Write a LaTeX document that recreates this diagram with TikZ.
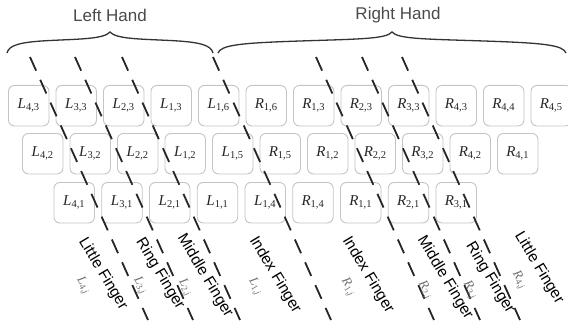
\documentclass[tikz,border=0pt]{standalone}
\usepackage{fontspec}
\setmainfont{Liberation Serif}
\setsansfont{Liberation Sans}
\usetikzlibrary{calc}
\definecolor{keyedge}{HTML}{C4C4C4}
\definecolor{keytext}{HTML}{262626}
\definecolor{handtext}{HTML}{4A4A4A}
\definecolor{subtext}{HTML}{707070}
\newcommand{\keylab}[2]{\textit{#1}\textsubscript{#2}}
\begin{document}
\begin{tikzpicture}[x=1pt,y=-1pt,
  keybox/.style={draw=keyedge, line width=0.9pt, rounded corners=6pt,
    minimum width=40.5pt, minimum height=40.5pt, anchor=north west,
    inner sep=0pt, text=keytext, font=\fontsize{15}{17}\selectfont},
  fingerline/.style={line width=1.8pt, draw=black!85, dash pattern=on 15pt off 10pt},
  brace/.style={line width=1.3pt, draw=black!80},
  handlabel/.style={font=\sffamily\fontsize{17}{20}\selectfont, text=handtext},
  fingerlabel/.style={font=\sffamily\fontsize{15.5}{18}\selectfont, rotate=-59, inner sep=0pt},
  sublabel/.style={font=\fontsize{13}{15}\selectfont, text=subtext, rotate=-59, inner sep=0pt}]
\useasboundingbox (0,0) rectangle (568,329);

% keyboard rows
\foreach \c/\s [count=\i from 0] in {L/{4,3},L/{3,3},L/{2,3},L/{1,3},L/{1,6},R/{1,6},R/{1,3},R/{2,3},R/{3,3},R/{4,3},R/{4,4},R/{4,5}}
  \node[keybox] (top\i) at ({8+47.5*\i},85) {\keylab{\c}{\s}};
\foreach \c/\s [count=\i from 0] in {L/{4,2},L/{3,2},L/{2,2},L/{1,2},L/{1,5},R/{1,5},R/{1,2},R/{2,2},R/{3,2},R/{4,2},R/{4,1}}
  \node[keybox] (mid\i) at ({22+47.5*\i},133) {\keylab{\c}{\s}};
\foreach \c/\s [count=\i from 0] in {L/{4,1},L/{3,1},L/{2,1},L/{1,1},L/{1,4},R/{1,4},R/{1,1},R/{2,1},R/{3,1}}
  \node[keybox] (bot\i) at ({53.5+47.75*\i},182) {\keylab{\c}{\s}};

% hand braces
\draw[brace] (7,53) .. controls (9,45) and (20,42) .. (50,40.5)
  .. controls (80,39) and (104,39) .. (110,32)
  .. controls (116,39) and (140,39) .. (170,40.5)
  .. controls (200,42) and (211,45) .. (213,53);
\draw[brace] (218,53) .. controls (221,45) and (240,43) .. (300,41)
  .. controls (360,39) and (386,39) .. (392,32)
  .. controls (398,39) and (424,39) .. (484,41)
  .. controls (544,43) and (563,45) .. (566,53);
\node[handlabel] (lefthand) at (110,15) {Left Hand};
\node[handlabel] (righthand) at (398,15) {Right Hand};

% finger separation lines
\foreach \x [count=\k] in {30,75,122,213,316,362,402} {
  \coordinate (sepA\k) at (\x,57);
  \coordinate (sepB\k) at ({\x+118},320);
  \draw[fingerline] (sepA\k) -- (sepB\k);
}

% finger names
\foreach \x/\y/\name/\h/\n [count=\k] in {
  103/274/Little Finger/L/4, 160/274/Ring Finger/L/3,
  205/276/Middle Finger/L/2, 275/275/Index Finger/L/1,
  368/275/Index Finger/R/1, 445/278/Middle Finger/R/2,
  490/278/Ring Finger/R/3, 539/268/Little Finger/R/4} {
  \node[fingerlabel] (finger\k) at (\x,\y) {\name};
  \node[sublabel] (fingersub\k) at ($(finger\k)+(-19.7,11.85)$) {\textit{\h}\textsubscript{\n,\textit{j}}};
}
\end{tikzpicture}
\end{document}
